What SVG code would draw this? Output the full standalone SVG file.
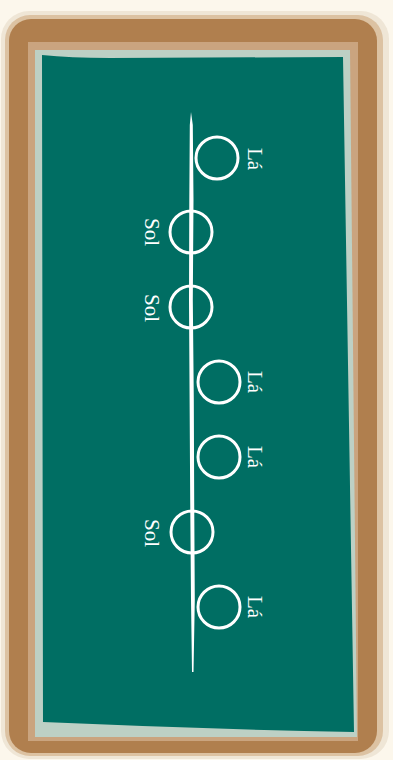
<svg xmlns="http://www.w3.org/2000/svg" width="393" height="760" viewBox="0 0 393 760">
<style>
.note{fill:none;stroke:#ffffff;stroke-width:3}
.lbl{font-family:"Liberation Serif","Times New Roman",serif;font-size:21px;fill:#ffffff;text-anchor:middle}
</style>
<rect width="393" height="760" fill="#fcf7ec"/>
<g id="frame">
<rect x="1" y="11" width="388" height="748" rx="28" fill="#efe6d6"/>
<rect x="5" y="15" width="378" height="741" rx="25" fill="#dcc2a2"/>
<rect x="9" y="19" width="368" height="734" rx="22" fill="#b07f4e"/>
<rect x="28" y="42" width="330" height="699" fill="#caa47f"/>
<path d="M35 50 L350 50 L357 737 L35 737 Z" fill="#bdd0c5"/>
<path d="M42 55 Q70 58 110 58 L343 57 L354 732 Q200 729 43 722 Z" fill="#006e63"/>
</g>
<g id="connectors">
<path d="M191 112 L192.8 125 L193.5 200 L192.8 300 L193.8 400 L194.2 500 L194.8 600 L193.5 672 L192 672 L191 600 L190.2 500 L189.6 400 L189 300 L189.3 200 L189.8 125 Z" fill="#ffffff"/>
</g>
<g id="n1"><circle class="note" cx="217" cy="158" r="21"/><text class="lbl" transform="translate(248 159) rotate(90)">Lá</text></g>
<g id="n2"><circle class="note" cx="191" cy="232" r="21"/><text class="lbl" transform="translate(145 232) rotate(90)">Sol</text></g>
<g id="n3"><circle class="note" cx="191" cy="307" r="21"/><text class="lbl" transform="translate(145 308) rotate(90)">Sol</text></g>
<g id="n4"><circle class="note" cx="219" cy="382" r="21"/><text class="lbl" transform="translate(248 382) rotate(90)">Lá</text></g>
<g id="n5"><circle class="note" cx="219" cy="457" r="21"/><text class="lbl" transform="translate(248 457) rotate(90)">Lá</text></g>
<g id="n6"><circle class="note" cx="192" cy="532" r="21"/><text class="lbl" transform="translate(145 533) rotate(90)">Sol</text></g>
<g id="n7"><circle class="note" cx="219" cy="607" r="21"/><text class="lbl" transform="translate(248 607) rotate(90)">Lá</text></g>
</svg>
